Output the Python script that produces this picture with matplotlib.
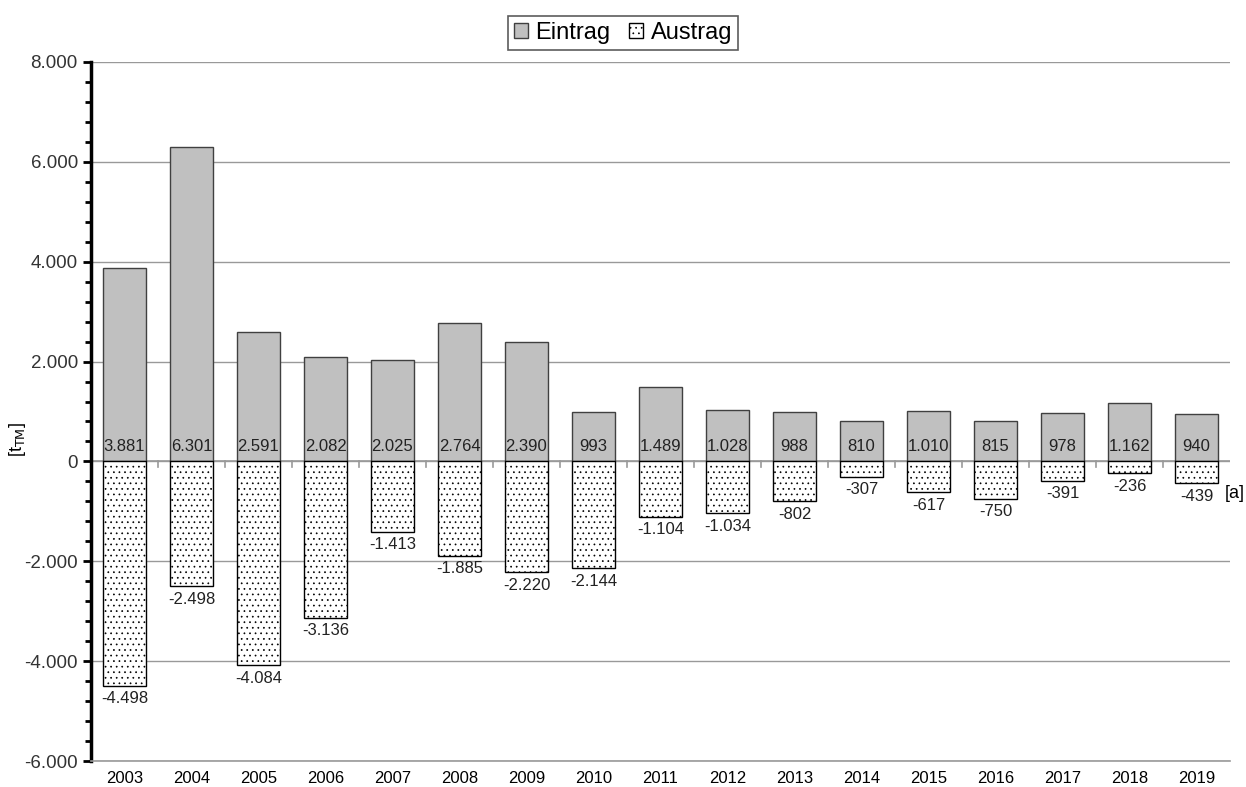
"""Annual Eintrag / Austrag bar chart."""
import matplotlib.pyplot as plt
from matplotlib.ticker import FuncFormatter, MultipleLocator

plt.rcParams["font.family"] = ["Liberation Sans", "DejaVu Sans"]
plt.rcParams["hatch.linewidth"] = 0.5
plt.rcParams["hatch.color"] = "#444444"

years = [str(y) for y in range(2003, 2020)]
eintrag = [3881, 6301, 2591, 2082, 2025, 2764, 2390, 993, 1489, 1028, 988, 810, 1010, 815, 978, 1162, 940]
austrag = [-4498, -2498, -4084, -3136, -1413, -1885, -2220, -2144, -1104, -1034, -802, -307, -617, -750, -391, -236, -439]


def de(v):
    return f"{v:,.0f}".replace(",", ".")


fig = plt.figure(figsize=(12.46, 7.87), dpi=100)
ax = fig.add_axes([91 / 1246, 26 / 787, 1139 / 1246, 699 / 787])

x = range(len(years))
w = 0.63
b1 = ax.bar(x, eintrag, w, color="#c0c0c0", edgecolor="#404040", linewidth=1.0,
            label="Eintrag", zorder=3)
b2 = ax.bar(x, austrag, w, color="white", edgecolor="black", linewidth=1.0,
            hatch="...", label="Austrag", zorder=3)

for i, v in enumerate(eintrag):
    ax.text(i, 140, de(v), ha="center", va="bottom", fontsize=12, color="#222222", zorder=4)
for i, v in enumerate(austrag):
    ax.text(i, v - 110, de(v), ha="center", va="top", fontsize=12, color="#222222", zorder=4)

ax.set_xlim(-0.5, len(years) - 0.5)
ax.set_ylim(-6000, 8000)
ax.yaxis.set_major_locator(MultipleLocator(2000))
ax.yaxis.set_minor_locator(MultipleLocator(400))
ax.yaxis.set_major_formatter(FuncFormatter(lambda v, p: de(v)))
ax.grid(axis="y", color="#999999", linewidth=1.0, zorder=0)
ax.axhline(0, color="#999999", linewidth=1.2, zorder=2)

# category separators on the zero line
for i in range(len(years) - 1):
    ax.plot([i + 0.5, i + 0.5], [0, -120], color="#999999", linewidth=1.2, zorder=2)

ax.set_xticks(list(x))
ax.set_xticklabels(years, fontsize=12)
ax.tick_params(axis="x", length=0, pad=7)
ax.tick_params(axis="y", which="major", length=6, width=2, labelsize=13.5, colors="black")
ax.tick_params(axis="y", which="minor", length=4, width=2)
for lbl in ax.get_yticklabels():
    lbl.set_color("#333333")

for s in ["top", "right"]:
    ax.spines[s].set_visible(False)
ax.spines["left"].set_linewidth(2.5)
ax.spines["bottom"].set_color("#999999")
ax.spines["bottom"].set_linewidth(1.2)

fig.text(18 / 1246, 1 - 440 / 787, r"[t$_{\mathrm{TM}}$]", fontsize=13,
         rotation=90, ha="center", va="center")
fig.text(1245 / 1246, 1 - 494 / 787, "[a]", fontsize=13, ha="right", va="center")

leg = fig.legend(handles=[b1, b2], loc="upper center", bbox_to_anchor=(0.5, 0.995),
                 ncol=2, fontsize=17, frameon=True, fancybox=False, edgecolor="#333333",
                 handlelength=0.6, handleheight=0.6, handletextpad=0.3, columnspacing=0.8,
                 borderpad=0.25)
leg.get_frame().set_linewidth(1.2)

fig.savefig("out.png", dpi=100)
